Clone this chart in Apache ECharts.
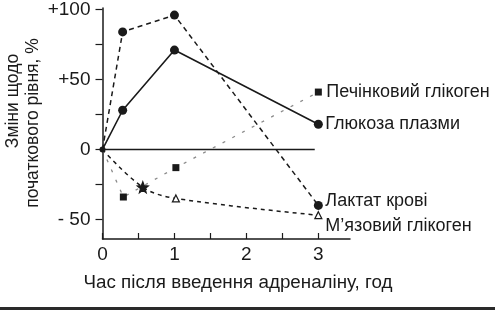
<!DOCTYPE html>
<html>
<head>
<meta charset="utf-8">
<script src="https://cdn.jsdelivr.net/npm/echarts@6/dist/echarts.min.js"></script>
<style>
html,body{margin:0;padding:0;background:#fff;}
#c{width:495px;height:310px;}
</style>
</head>
<body>
<div id="c"></div>
<script>
// ---- data ----
var xTickValues = [0, 0.5, 1, 1.5, 2, 2.5, 3];
var xLabelValues = [0, 1, 2, 3];
var yTickValues = [-50, -25, 0, 25, 50, 75, 100];
var yLabelValues = [-50, 0, 50, 100];
var yLabelTexts = ['- 50', '0', '+50', '+100'];

var glucoseTime = [0, 0.28, 1, 3];
var glucose = [0, 28, 71, 18];
var lactateTime = [0, 0.28, 1, 3];
var lactate = [0, 84, 96, -40];
var liverTime = [0, 0.29, 1.02, 3];
var liver = [0, -34, -13, 41];
var muscleTime = [0, 0.56, 1.02, 3];
var muscle = [0, -27, -35, -47];
var zeroLineX = [0, 2.95];
var zeroLineY = [0, 0];

var names = {
  liver: 'Печінковий глікоген',
  glucose: 'Глюкоза плазми',
  lactate: 'Лактат крові',
  muscle: 'М\u2019язовий глікоген'
};
var xTitle = 'Час після введення адреналіну, год';
var yTitle1 = 'Зміни щодо';
var yTitle2 = 'початкового рівня, %';

function pairs(xs, ys) { return xs.map(function (x, i) { return [x, ys[i]]; }); }

var FONT = "'Liberation Sans', Arial, sans-serif";
var INK = '#1a1a1a';
var starPath = 'path://M0,-10L2.5,-3.5L9.5,-3.1L4,1.2L5.9,8.1L0,4.2L-5.9,8.1L-4,1.2L-9.5,-3.1L-2.5,-3.5Z';

var chart = echarts.init(document.getElementById('c'), null, {renderer: 'canvas'});
var labelStyle = {show: true, color: INK, fontFamily: FONT, fontSize: 18, distance: 8};

var muscleData = pairs(muscleTime, muscle).map(function (d, i) {
  return i === 1 ? {value: d, itemStyle: {color: INK}} : d;
});

chart.setOption({
  animation: false,
  backgroundColor: '#fff',
  grid: {left: 102.5, right: 145, top: 5.4, bottom: 71, containLabel: false},
  xAxis: {
    type: 'value', min: 0, max: 3.44,
    axisLine: {show: true, onZero: false, lineStyle: {color: INK, width: 1.5}},
    axisTick: {show: true, inside: true, length: 6, customValues: xTickValues, lineStyle: {color: INK, width: 1.2}},
    axisLabel: {show: true, customValues: xLabelValues, margin: 6, color: INK, fontFamily: FONT, fontSize: 19},
    splitLine: {show: false}
  },
  yAxis: {
    type: 'value', min: -64, max: 101,
    axisLine: {show: true, onZero: false, lineStyle: {color: INK, width: 1.5}},
    axisTick: {show: true, inside: false, length: 7, customValues: yTickValues, lineStyle: {color: INK, width: 1.2}},
    axisLabel: {show: true, customValues: yLabelValues, margin: 12, color: INK, fontFamily: FONT, fontSize: 19,
      formatter: function (v) { var i = yLabelValues.indexOf(v); return i >= 0 ? yLabelTexts[i] : ''; }},
    splitLine: {show: false}
  },
  graphic: [
    {type: 'text', x: 13, y: 101, rotation: Math.PI / 2, silent: true,
      style: {text: yTitle1, fill: INK, font: '17.5px ' + FONT, align: 'center', verticalAlign: 'middle'}},
    {type: 'text', x: 33, y: 123, rotation: Math.PI / 2, silent: true,
      style: {text: yTitle2, fill: INK, font: '17.5px ' + FONT, align: 'center', verticalAlign: 'middle'}},
    {type: 'text', x: 238, y: 283, silent: true,
      style: {text: xTitle, fill: INK, font: '18.8px ' + FONT, align: 'center', verticalAlign: 'middle'}},
    {type: 'rect', shape: {x: 0, y: 307, width: 495, height: 3}, style: {fill: '#2a2a2a'}, silent: true}
  ],
  series: [
    {
      type: 'line', data: pairs(zeroLineX, zeroLineY), symbol: 'none',
      lineStyle: {color: INK, width: 1.5}, z: 1, silent: true
    },
    {
      name: names.liver, type: 'line', data: pairs(liverTime, liver),
      symbol: 'rect', symbolSize: function (v, p) { return p.dataIndex === 0 ? 0 : 7; },
      itemStyle: {color: INK}, lineStyle: {color: '#8a8a8a', width: 1.3, type: [3, 8]},
      endLabel: Object.assign({}, labelStyle, {formatter: names.liver, offset: [0, 0]}), z: 3
    },
    {
      name: names.glucose, type: 'line', data: pairs(glucoseTime, glucose),
      symbol: 'circle', symbolSize: function (v, p) { return p.dataIndex === 0 ? 6 : 9; },
      itemStyle: {color: INK}, lineStyle: {color: INK, width: 1.6, type: 'solid'},
      endLabel: Object.assign({}, labelStyle, {formatter: names.glucose, offset: [-1, 0]}), z: 4
    },
    {
      name: names.lactate, type: 'line', data: pairs(lactateTime, lactate),
      symbol: 'circle', symbolSize: function (v, p) { return p.dataIndex === 0 ? 0 : 9; },
      itemStyle: {color: INK}, lineStyle: {color: INK, width: 1.5, type: [5, 4]},
      endLabel: Object.assign({}, labelStyle, {formatter: names.lactate, offset: [-1, -4]}), z: 4
    },
    {
      name: names.muscle, type: 'line', data: muscleData, smooth: 0.35,
      symbol: function (v, p) { return p.dataIndex === 1 ? starPath : 'triangle'; },
      symbolSize: function (v, p) { return p.dataIndex === 0 ? 0 : (p.dataIndex === 1 ? 11 : 7); },
      itemStyle: {color: '#fff', borderColor: INK, borderWidth: 1.2},
      lineStyle: {color: INK, width: 1.5, type: [4, 4]},
      endLabel: Object.assign({}, labelStyle, {formatter: names.muscle, offset: [-1, 11]}), z: 3
    }
  ]
});
</script>
</body>
</html>
